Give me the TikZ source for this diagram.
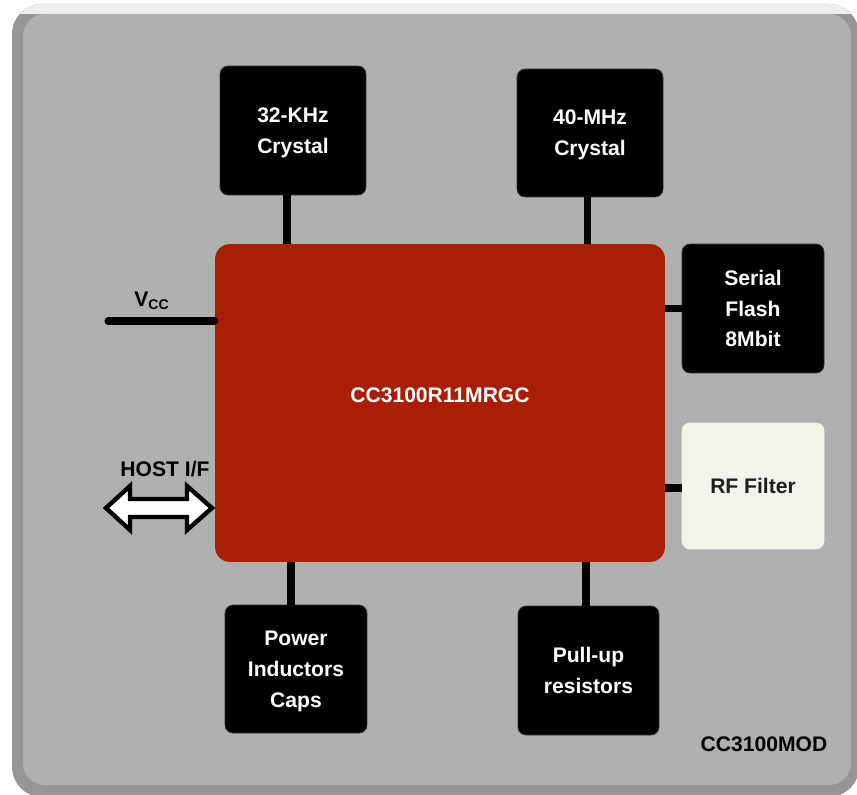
\documentclass[tikz,border=0pt]{standalone}
\usepackage{fontspec}
\setmainfont{Liberation Sans}
\usepackage{tikz}
\usetikzlibrary{arrows.meta}
\usepackage{xcolor}

\definecolor{facegray}{RGB}{176,176,176}
\definecolor{bevellight}{RGB}{238,238,238}
\definecolor{beveldark}{RGB}{150,150,150}
\definecolor{chipred}{RGB}{170,30,5}
\definecolor{rffill}{RGB}{243,243,236}
\definecolor{rftext}{RGB}{30,30,30}

\tikzset{
  blackbox/.style={draw=black!80,fill=black,rounded corners=0.16cm,text=white,text depth=0pt,
    align=center,font=\fontsize{12}{17.5}\selectfont\bfseries,inner sep=0pt},
  conn/.style={line width=4.5pt},
}

\begin{document}
\begin{tikzpicture}[x=0.02cm,y=-0.02cm]
\clip (0,0) rectangle (857,794);

%module outline
\fill[beveldark,rounded corners=0.6cm] (12,4) rectangle (859,797);
\begin{scope}
\clip[rounded corners=0.6cm] (12,4) rectangle (859,797);
\fill[bevellight] (0,0) rectangle (870,14);
\end{scope}
\fill[facegray,rounded corners=0.44cm] (23,14) rectangle (851,785);

%chip and parts
\node[fill=chipred,rounded corners=0.3cm,minimum width=9cm,minimum height=6.36cm,
  text=white,font=\fontsize{12}{17}\selectfont\bfseries] (chip) at (440,403)
  {\raisebox{0.3cm}{CC3100R11MRGC}};
\node[blackbox,minimum width=2.92cm,minimum height=2.58cm] (xtal32) at (293,130.5) {32-KHz\\Crystal};
\node[blackbox,minimum width=2.92cm,minimum height=2.56cm] (xtal40) at (590,133) {40-MHz\\Crystal};
\node[blackbox,minimum width=2.84cm,minimum height=2.58cm] (flash) at (753,308.5) {Serial\\Flash\\8Mbit};
\node[blackbox,fill=rffill,draw=rffill,text=rftext,minimum width=2.84cm,minimum height=2.52cm] (rf) at (753,486) {RF Filter};
\node[blackbox,minimum width=2.84cm,minimum height=2.56cm] (power) at (296,669) {Power\\Inductors\\Caps};
\node[blackbox,minimum width=2.82cm,minimum height=2.58cm] (pullup) at (588.5,670.5) {Pull-up\\resistors};

%connections
\draw[conn] ([xshift=-0.12cm]xtal32.south) -- ([xshift=-0.12cm]xtal32.south |- chip.north);
\draw[conn] ([xshift=-0.05cm]xtal40.south) -- ([xshift=-0.05cm]xtal40.south |- chip.north);
\draw[conn] ([xshift=-0.1cm]power.north) -- ([xshift=-0.1cm]power.north |- chip.south);
\draw[conn] ([xshift=-0.05cm]pullup.north) -- ([xshift=-0.05cm]pullup.north |- chip.south);
\draw[conn] (flash.west) -- (flash.west -| chip.east);
\draw[conn] ([yshift=-0.04cm]rf.west) -- ([yshift=-0.04cm]rf.west -| chip.east);

%supply
\coordinate (vcc) at (108,321);
\draw[line width=4pt,line cap=round] (vcc) -- (vcc -| chip.west);
\node[font=\fontsize{12}{14}\selectfont\bfseries] (vcclabel) at (152,301) {V\textsubscript{CC}};

%host interface
\coordinate (host) at (106,508);
\node[font=\fontsize{12}{14}\selectfont\bfseries] (hostlabel) at (165,469) {HOST I/F};
\draw[line width=2.5pt,fill=white,line join=miter] (host) -- ++(24,-22) -- ++(0,13) -- ++(57,0) -- ++(0,-13)
  -- ++(25,22) -- ++(-25,22) -- ++(0,-13) -- ++(-57,0) -- ++(0,13) -- cycle;

%module name
\node[font=\fontsize{12}{14}\selectfont\bfseries] (modname) at (764,744) {CC3100MOD};
\end{tikzpicture}
\end{document}
